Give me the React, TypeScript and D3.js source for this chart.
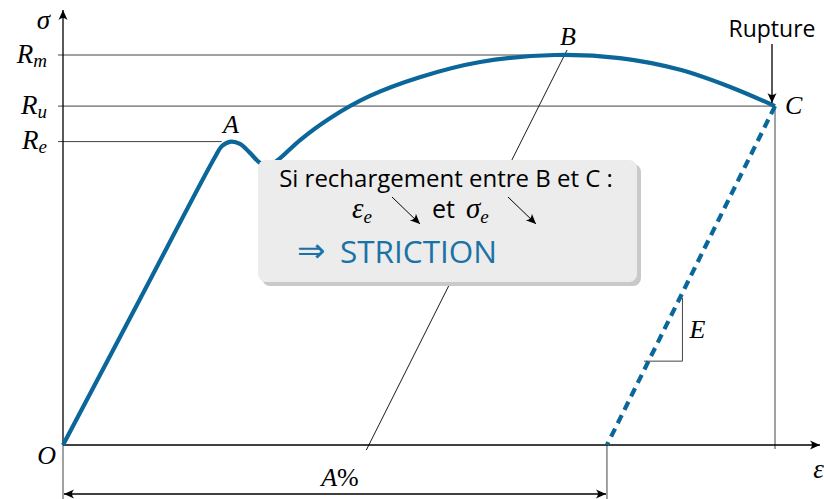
import React from "react";
import * as d3 from "d3";

// Stress–strain curve (strain in % of rupture strain, stress in % of Rm)
const strain = [0, 10.67, 21.35, 22.33, 23.6, 24.86, 26.26, 27.67, 28.79, 30.2, 33.3, 37.5, 43.1, 50.1, 58.6, 69.1, 78.2, 86.7, 93.7, 100];
const stress = [0, 36.92, 73.85, 76.67, 77.8, 77.2, 74.9, 72.3, 71.5, 73.1, 78.2, 83.8, 89.5, 94.3, 98.2, 100, 99.2, 96.2, 91.8, 86.9];

// Characteristic stress levels
const levelSubs = ["m", "u", "e"];
const levelValues = [100, 86.9, 77.8];
const levelEnds = [71.6, 100, 22.3];

// Elastic unloading from C down to permanent strain A%
const unloadStrain = [100, 76.4];
const unloadStress = [86.9, 0];
// Slope triangle on the unloading line
const slopeStrain = [81.6, 87.0];
const slopeStress = [21.5, 37.7];

const BLUE = "#0b6699";
const MATH = "'Liberation Serif', 'DejaVu Serif', serif";
const SANS = "'Open Sans', Lato, sans-serif";

export default function App() {
  const W = 824, H = 499;
  const x = d3.scaleLinear().domain([0, 100]).range([63, 775]);
  const y = d3.scaleLinear().domain([0, 100]).range([445, 55]);

  const pts: [number, number][] = strain.map((e, i) => [e, stress[i]]);
  const curve = d3
    .line<[number, number]>()
    .x((d) => x(d[0]))
    .y((d) => y(d[1]))
    .curve(d3.curveCatmullRom.alpha(0.5))(pts) as string;

  const x0 = x(0), y0 = y(0);
  const xEnd = 820, yTop = 10;
  const grey = "#444";

  const C = [x(unloadStrain[0]), y(unloadStress[0])];
  const D = [x(unloadStrain[1]), y(unloadStress[1])];

  const box = { x: 258, y: 160, w: 379, h: 122 };

  return (
    <svg width={W} height={H} style={{ position: "absolute", left: 0, top: 0, background: "#fff" }}>
      <defs>
        <marker id="tip" viewBox="-11 -6 12 12" refX="0" refY="0" markerWidth="12" markerHeight="12" markerUnits="userSpaceOnUse" orient="auto-start-reverse">
          <path d="M0,0 L-10,-4.5 Q-6,0 -10,4.5 Z" fill="#000" />
        </marker>
      </defs>

      {/* reference levels */}
      {levelValues.map((v, i) => (
        <line key={"l" + i} x1={x0 - 5} x2={x(levelEnds[i])} y1={y(v)} y2={y(v)} stroke={grey} strokeWidth={1} />
      ))}
      {levelValues.map((v, i) => (
        <text key={"t" + i} x={47} y={y(v) + 7.5} textAnchor="end" fontFamily={MATH} fontStyle="italic" fontSize={27}>
          R<tspan dy={4} fontSize={19}>{levelSubs[i]}</tspan>
        </text>
      ))}

      {/* guide lines */}
      <line x1={C[0]} x2={C[0]} y1={C[1]} y2={y0 + 4} stroke={grey} strokeWidth={1} />
      <line x1={D[0]} x2={D[0]} y1={y0} y2={H} stroke={grey} strokeWidth={1} />
      <line x1={x0} x2={x0} y1={y0} y2={H} stroke={grey} strokeWidth={1} />

      {/* B leader line */}
      <line x1={x(70.8)} y1={y(101.3)} x2={x(42.6)} y2={y(-1.3)} stroke="#000" strokeWidth={0.9} />

      {/* axes */}
      <line x1={x0} x2={xEnd} y1={y0} y2={y0} stroke="#000" strokeWidth={1.3} markerEnd="url(#tip)" />
      <line x1={x0} x2={x0} y1={y0} y2={yTop} stroke="#000" strokeWidth={1.3} markerEnd="url(#tip)" />

      {/* curve */}
      <path d={curve} fill="none" stroke={BLUE} strokeWidth={4.2} strokeLinejoin="round" />
      <line x1={C[0]} y1={C[1]} x2={D[0]} y2={D[1]} stroke={BLUE} strokeWidth={4.2} strokeDasharray="9,6" />

      {/* slope triangle */}
      <polyline
        points={`${x(slopeStrain[0])},${y(slopeStress[0])} ${x(slopeStrain[1])},${y(slopeStress[0])} ${x(slopeStrain[1])},${y(slopeStress[1])}`}
        fill="none" stroke={grey} strokeWidth={1}
      />
      <text x={x(slopeStrain[1]) + 7} y={y((slopeStress[0] + slopeStress[1]) / 2) + 8} fontFamily={MATH} fontStyle="italic" fontSize={26}>E</text>

      {/* info box */}
      <rect x={box.x + 4} y={box.y + 4} width={box.w} height={box.h} rx={8} fill="#c9c9c9" />
      <rect x={box.x} y={box.y} width={box.w} height={box.h} rx={8} fill="#ececec" />
      <text x={446} y={187} textAnchor="middle" fontFamily={SANS} fontSize={24}>Si rechargement entre B et C :</text>
      <text x={352} y={218} fontFamily={MATH} fontStyle="italic" fontSize={29}>ε<tspan dy={5} fontSize={19}>e</tspan></text>
      <line x1={392} y1={197} x2={420} y2={224} stroke="#000" strokeWidth={1} markerEnd="url(#tip)" />
      <text x={432} y={218} fontFamily={SANS} fontSize={25}>et</text>
      <text x={466} y={218} fontFamily={MATH} fontStyle="italic" fontSize={29}>σ<tspan dy={5} fontSize={19}>e</tspan></text>
      <line x1={508} y1={197} x2={536} y2={224} stroke="#000" strokeWidth={1} markerEnd="url(#tip)" />
      <text x={297} y={262} fontFamily="'DejaVu Sans', sans-serif" fontSize={34} fill="#1a72a6">⇒</text>
      <text x={340} y={263} fontFamily={SANS} fontSize={31.5} fill="#1a72a6">STRICTION</text>

      {/* point labels */}
      <text x={x(23.6)} y={133} textAnchor="middle" fontFamily={MATH} fontStyle="italic" fontSize={26}>A</text>
      <text x={568} y={45} textAnchor="middle" fontFamily={MATH} fontStyle="italic" fontSize={26}>B</text>
      <text x={C[0] + 10} y={C[1] + 8} fontFamily={MATH} fontStyle="italic" fontSize={26}>C</text>
      <text x={56} y={y0 + 19} textAnchor="end" fontFamily={MATH} fontStyle="italic" fontSize={26}>O</text>
      <text x={50} y={29} textAnchor="end" fontFamily={MATH} fontStyle="italic" fontSize={27}>σ</text>
      <text x={824} y={478} textAnchor="end" fontFamily={MATH} fontStyle="italic" fontSize={27}>ε</text>

      {/* rupture marker */}
      <text x={772} y={37} textAnchor="middle" fontFamily={SANS} fontSize={23}>Rupture</text>
      <line x1={772} y1={44} x2={772} y2={C[1] - 3} stroke="#000" strokeWidth={1.3} markerEnd="url(#tip)" />

      {/* A% dimension */}
      <line x1={x0 + 1} x2={D[0] - 1} y1={494} y2={494} stroke="#000" strokeWidth={1.3} markerStart="url(#tip)" markerEnd="url(#tip)" />
      <text x={340} y={486} textAnchor="middle" fontFamily={MATH} fontSize={26}>
        <tspan fontStyle="italic">A</tspan>%
      </text>
    </svg>
  );
}
